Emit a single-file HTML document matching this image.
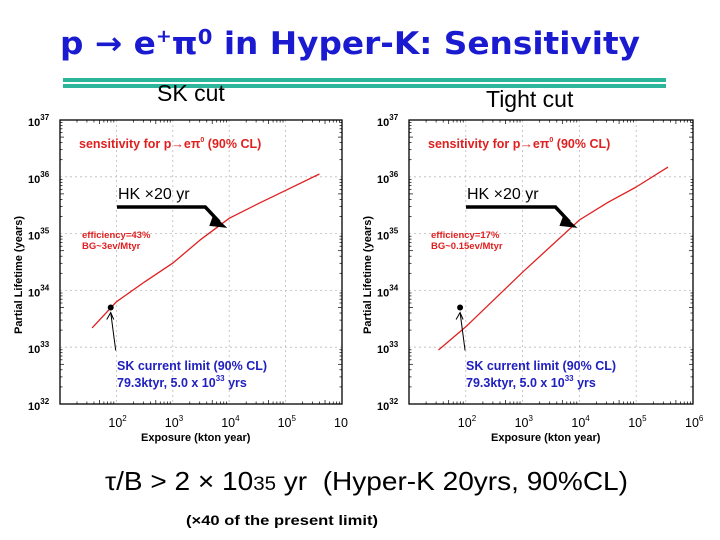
<!DOCTYPE html>
<html><head><meta charset="utf-8">
<style>
body{margin:0;width:720px;height:540px;background:#fff;overflow:hidden;font-family:"Liberation Sans",sans-serif;}
svg{position:absolute;left:0;top:0}
</style></head>
<body>
<svg id="s" width="720" height="540">
  <text x="60" y="54" font-family="'DejaVu Sans',sans-serif" font-weight="bold" font-size="31" fill="#1a1ad0" textLength="580" lengthAdjust="spacingAndGlyphs">p → e<tspan font-size="18" dy="-12">+</tspan><tspan dy="12">π</tspan><tspan font-size="20" dy="-10">0</tspan><tspan dy="10"> in Hyper-K: Sensitivity</tspan></text>
  <rect x="63" y="78" width="603" height="4" fill="#2bb59a"/>
  <rect x="63" y="84" width="603" height="4" fill="#2bb59a"/>
  <text x="157" y="101" font-size="23" fill="#000">SK cut</text>
  <text x="486" y="107" font-size="23" fill="#000">Tight cut</text>
  <text x="105" y="490" font-size="26" fill="#000" xml:space="preserve" textLength="523" lengthAdjust="spacingAndGlyphs">τ/B &gt; 2 × 10<tspan font-size="19">35</tspan> yr  (Hyper-K 20yrs, 90%CL)</text>
  <text x="186" y="525" font-size="13.5" font-weight="bold" fill="#000" textLength="192" lengthAdjust="spacingAndGlyphs">(×40 of the present limit)</text>
</svg>
<script>
// SK cut panel data: log10(exposure kton·yr), log10(lifetime yr)
const skExposureLog=[1.57,2,2.5,3,3.5,4,4.5,5,5.6];
const skLifetimeLog=[33.34,33.8,34.15,34.48,34.9,35.27,35.52,35.76,36.05];
// Tight cut panel data
const tightExposureLog=[1.52,2,3,4,4.5,5,5.56];
const tightLifetimeLog=[32.95,33.36,34.32,35.24,35.55,35.82,36.17];
// SK current limit point
const skLimitExposure=79.3;
const skLimitLifetime=5.0e33;
const xTickLabels=["2","3","4","5","6"];
const yTickLabels=["32","33","34","35","36","37"];

const NS="http://www.w3.org/2000/svg";
const svg=document.getElementById('s');
function mk(tag,attrs,parent){const e=document.createElementNS(NS,tag);for(const k in attrs)e.setAttribute(k,attrs[k]);(parent||svg).appendChild(e);return e;}

function panel(x0,x1,prefix,xs,ys,eff,bg,lastXLabel){
  const y0=120,y1=404;
  const g=mk('g',{});
  
  
  const X=v=>x0+(v-1)*(x1-x0)/5;
  const Y=v=>y1-(v-32)*(y1-y0)/5;
  for(let d=2;d<=5;d++){const l=mk('line',{x1:X(d),x2:X(d),y1:y0,y2:y1,stroke:'#bbb','stroke-dasharray':'2,3','stroke-width':0.8},g);
    }
  for(let d=33;d<=36;d++){const l=mk('line',{x1:x0,x2:x1,y1:Y(d),y2:Y(d),stroke:'#bbb','stroke-dasharray':'2,3','stroke-width':0.8},g);
    }
  const fr=mk('rect',{x:x0,y:y0,width:x1-x0,height:y1-y0,fill:'none',stroke:'#000','stroke-width':1.3},g);
  
  for(let d=1;d<6;d++)for(let m=2;m<10;m++){const xv=X(d+Math.log10(m));
    mk('line',{x1:xv,x2:xv,y1:y1,y2:y1-(m==5?4:2.5),stroke:'#000','stroke-width':0.7},g);
    mk('line',{x1:xv,x2:xv,y1:y0,y2:y0+(m==5?4:2.5),stroke:'#000','stroke-width':0.7},g);}
  for(let d=32;d<37;d++)for(let m=2;m<10;m++){const yv=Y(d+Math.log10(m));
    mk('line',{x1:x0,x2:x0+(m==5?4:2.5),y1:yv,y2:yv,stroke:'#000','stroke-width':0.7},g);
    mk('line',{x1:x1,x2:x1-(m==5?4:2.5),y1:yv,y2:yv,stroke:'#000','stroke-width':0.7},g);}
  xTickLabels.forEach((t,i)=>{const d=+t;
    const tx=mk('text',{x:X(d)-8,y:427,'font-size':12.5,fill:'#000'},g);
    
    tx.textContent='10';
    if(d!=6||lastXLabel){const s=mk('tspan',{'font-size':8,dy:-6},tx);s.textContent=t;}
  });
  yTickLabels.forEach(t=>{const d=+t;
    const tx=mk('text',{x:x0-32,y:Y(d)+6,'font-size':11,'font-weight':'bold',fill:'#000'},g);
    
    tx.textContent='10';const s=mk('tspan',{'font-size':8,dy:-6},tx);s.textContent=t;});
  const xt=mk('text',{x:(x0+x1)/2-60,y:441,'font-size':11,'font-weight':'bold',fill:'#000'},g);
  
  xt.textContent='Exposure (kton year)';
  const yt=mk('text',{x:0,y:0,'font-size':11,'font-weight':'bold',fill:'#000',transform:`translate(${x0-38},${(y0+y1)/2+72}) rotate(-90)`},g);
  
  yt.textContent='Partial Lifetime (years)';
  const pts=xs.map((v,i)=>X(v).toFixed(1)+','+Y(ys[i]).toFixed(1)).join(' ');
  const c=mk('polyline',{points:pts,fill:'none',stroke:'#e02020','stroke-width':1.3},g);
  
  const st=mk('text',{x:x0+19,y:148,'font-size':12.5,'font-weight':'bold',fill:'#e02020'},g);
  
  st.innerHTML='sensitivity for p→eπ<tspan font-size="7" dy="-6">0</tspan><tspan dy="6"> (90% CL)</tspan>';
  const e1=mk('text',{x:x0+22,y:238,'font-size':9.5,'font-weight':'bold',fill:'#e02020'},g);
  e1.textContent=eff;
  const e2=mk('text',{x:x0+22,y:249,'font-size':9.5,'font-weight':'bold',fill:'#e02020'},g);
  e2.textContent=bg;
  const px=X(Math.log10(skLimitExposure)),py=Y(Math.log10(skLimitLifetime));
  const dot=mk('circle',{cx:px,cy:py,r:3,fill:'#000'},g);
  
  const ar=mk('path',{d:`M${px+5},${py+43} L${px},${py+5} M${px-4},${py+12} L${px},${py+5} L${px+3},${py+12}`,fill:'none',stroke:'#000','stroke-width':1},g);
  
  const b1=mk('text',{x:x0+57,y:370,'font-size':12.5,'font-weight':'bold',fill:'#2020c0'},g);
  b1.textContent='SK current limit (90% CL)';
  const b2=mk('text',{x:x0+57,y:387,'font-size':12.5,'font-weight':'bold',fill:'#2020c0'},g);
  
  b2.innerHTML='79.3ktyr, 5.0 x 10<tspan font-size="8" dy="-6">33</tspan><tspan dy="6"> yrs</tspan>';
  const hk=mk('text',{x:x0+58,y:199,'font-size':16,fill:'#000'},g);
  hk.textContent='HK ×20 yr';
  const hx=X(Math.log10(20*260)+0.25),hy=Y(35.1);
  const ha=mk('path',{d:`M${x0+57},${207} L${hx-22},${207} L${hx-8},${hy-6}`,fill:'none',stroke:'#000','stroke-width':3.5},g);
  
  const hh=mk('path',{d:`M${hx-14},${hy-13} L${hx},${hy} L${hx-18},${hy-2} Z`,fill:'#000'},g);
  
}
panel(60,342,'sk-cut',skExposureLog,skLifetimeLog,'efficiency=43%','BG~3ev/Mtyr',false);
panel(409,693,'tight-cut',tightExposureLog,tightLifetimeLog,'efficiency=17%','BG~0.15ev/Mtyr',true);
</script>
</body></html>
